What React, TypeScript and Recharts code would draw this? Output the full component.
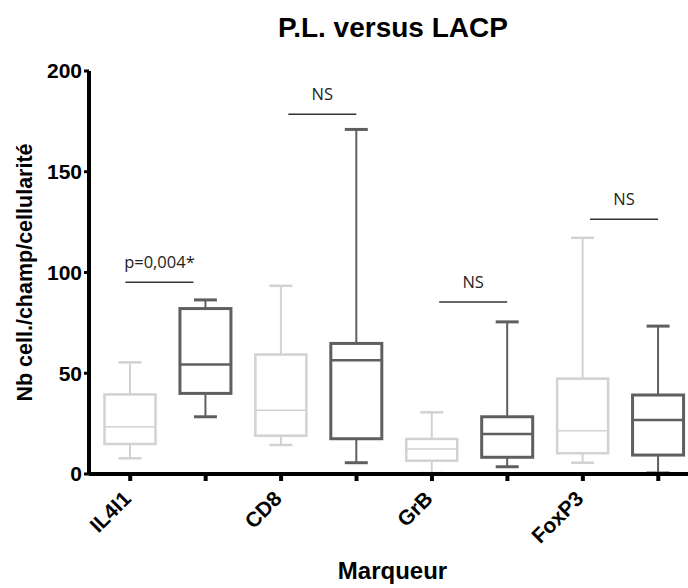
import { Bar, ComposedChart, XAxis, YAxis } from 'recharts';

const MARKERS = ['IL4I1', 'CD8', 'GrB', 'FoxP3'];

// P.L. (light grey boxes)
const PL_MIN = [7.8, 14.4, 0.5, 5.6];
const PL_Q1 = [14.9, 19.0, 6.6, 10.3];
const PL_MED = [23.5, 31.6, 12.4, 21.5];
const PL_Q3 = [39.5, 59.3, 17.4, 47.3];
const PL_MAX = [55.4, 93.4, 30.6, 117.2];

// LACP (dark grey boxes)
const LACP_MIN = [28.4, 5.6, 3.6, 0.5];
const LACP_Q1 = [40.0, 17.5, 8.3, 9.4];
const LACP_MED = [54.4, 56.4, 19.8, 26.8];
const LACP_Q3 = [82.1, 64.8, 28.4, 39.2];
const LACP_MAX = [86.4, 171.0, 75.5, 73.4];

const SIG_LABELS = ['p=0,004*', 'NS', 'NS', 'NS'];
const SIG_VALUES = [95.2, 178.5, 85.3, 126.4];

const Y_TICKS = [0, 50, 100, 150, 200];

const FONT = '"Liberation Sans", Arial, sans-serif';
const SIG_FONT = '"Open Sans", "Noto Sans", sans-serif';
const LIGHT = '#d2d2d2';
const DARK = '#5f5f5f';
const SIG_SHIFT = [-12, 0, 0, 0];

const rows = MARKERS.flatMap((m, i) => [
  {
    key: `${m}-PL`,
    marker: m,
    group: 'PL',
    idx: i,
    range: [PL_MIN[i], PL_MAX[i]],
    min: PL_MIN[i],
    q1: PL_Q1[i],
    med: PL_MED[i],
    q3: PL_Q3[i],
    max: PL_MAX[i],
  },
  {
    key: `${m}-LACP`,
    marker: m,
    group: 'LACP',
    idx: i,
    range: [LACP_MIN[i], LACP_MAX[i]],
    min: LACP_MIN[i],
    q1: LACP_Q1[i],
    med: LACP_MED[i],
    q3: LACP_Q3[i],
    max: LACP_MAX[i],
  },
]);

function BoxShape(props: any) {
  const { x, y, width, height, payload } = props;
  const { min, q1, med, q3, max, group, idx } = payload;
  const top = Math.min(y, y + height);
  const bottom = Math.max(y, y + height);
  // position of a value, from the bar's own scaled extent
  const toY = (v: number) => bottom - ((bottom - top) * (v - min)) / (max - min);
  const cx = x + width / 2;
  const dark = group === 'LACP';
  const color = dark ? DARK : LIGHT;
  const boxW = dark ? 3 : 2.5;
  const medW = dark ? 2.5 : 1.5;
  const capHalf = 11.5;

  let sig = null;
  if (dark) {
    const sy = toY(SIG_VALUES[idx]);
    const x2 = cx + SIG_SHIFT[idx];
    const x1 = x2 - 68;
    sig = (
      <g>
        <line x1={x1} x2={x2} y1={sy} y2={sy} stroke='#333' strokeWidth={1.5} />
        <text x={(x1 + x2) / 2} y={sy - 14} textAnchor='middle' fontSize={16.5} fill='#222' fontFamily={SIG_FONT}>
          {SIG_LABELS[idx]}
        </text>
      </g>
    );
  }

  return (
    <g>
      <line x1={cx} x2={cx} y1={toY(max)} y2={toY(q3)} stroke={color} strokeWidth={2} />
      <line x1={cx} x2={cx} y1={toY(q1)} y2={toY(min)} stroke={color} strokeWidth={2} />
      <line x1={cx - capHalf} x2={cx + capHalf} y1={toY(max)} y2={toY(max)} stroke={color} strokeWidth={boxW} />
      <line x1={cx - capHalf} x2={cx + capHalf} y1={toY(min)} y2={toY(min)} stroke={color} strokeWidth={boxW} />
      <rect x={x} y={toY(q3)} width={width} height={toY(q1) - toY(q3)} fill='none' stroke={color} strokeWidth={boxW} />
      <line x1={x} x2={x + width} y1={toY(med)} y2={toY(med)} stroke={color} strokeWidth={medW} />
      {sig}
    </g>
  );
}

function MarkerTick(props: any) {
  const { x, y, payload } = props;
  const row = rows.find((r) => r.key === payload.value);
  if (!row || row.group !== 'PL') return null;
  const ax = x + 2;
  const ay = y + 17;
  return (
    <text
      x={ax}
      y={ay}
      transform={`rotate(-45, ${ax}, ${ay})`}
      textAnchor='end'
      fontSize={21}
      fontWeight={700}
      fill='#000'
      fontFamily={FONT}
    >
      {row.marker}
    </text>
  );
}

export default function App() {
  return (
    <div
      style={{
        position: 'absolute',
        left: 0,
        top: 0,
        width: 688,
        height: 588,
        overflow: 'hidden',
        background: '#fff',
        fontFamily: FONT,
      }}
    >
      <div
        style={{
          position: 'absolute',
          left: 393,
          top: 14,
          transform: 'translateX(-50%)',
          fontSize: 28,
          fontWeight: 700,
          lineHeight: 1,
          whiteSpace: 'nowrap',
          color: '#000',
        }}
      >
        P.L. versus LACP
      </div>
      <div style={{ position: 'absolute', left: 0, top: 0 }}>
        <ComposedChart width={700} height={588} data={rows} margin={{ top: 71, right: 4, bottom: 0, left: 0 }}>
          <XAxis
            dataKey='key'
            interval={0}
            height={114}
            padding={{ left: 3.5, right: 0 }}
            axisLine={{ stroke: '#000', strokeWidth: 4 }}
            tickLine={{ stroke: '#000', strokeWidth: 4 }}
            tickSize={7}
            tick={<MarkerTick />}
            label={{
              value: 'Marqueur',
              position: 'insideBottom',
              offset: 9,
              style: { fontSize: 24, fontWeight: 700, fill: '#000', fontFamily: FONT },
            }}
          />
          <YAxis
            type='number'
            domain={[0, 200]}
            ticks={Y_TICKS}
            width={89}
            axisLine={{ stroke: '#000', strokeWidth: 4 }}
            tickLine={{ stroke: '#000', strokeWidth: 3 }}
            tickSize={5}
            tick={{ fontSize: 21, fontWeight: 700, fill: '#000', fontFamily: FONT }}
            label={{
              value: 'Nb cell./champ/cellularité',
              angle: -90,
              position: 'center',
              dx: -20,
              style: { fontSize: 21.5, fontWeight: 700, fill: '#000', fontFamily: FONT, textAnchor: 'middle' },
            }}
          />
          <Bar dataKey='range' barSize={51} shape={BoxShape} isAnimationActive={false} />
        </ComposedChart>
      </div>
    </div>
  );
}
